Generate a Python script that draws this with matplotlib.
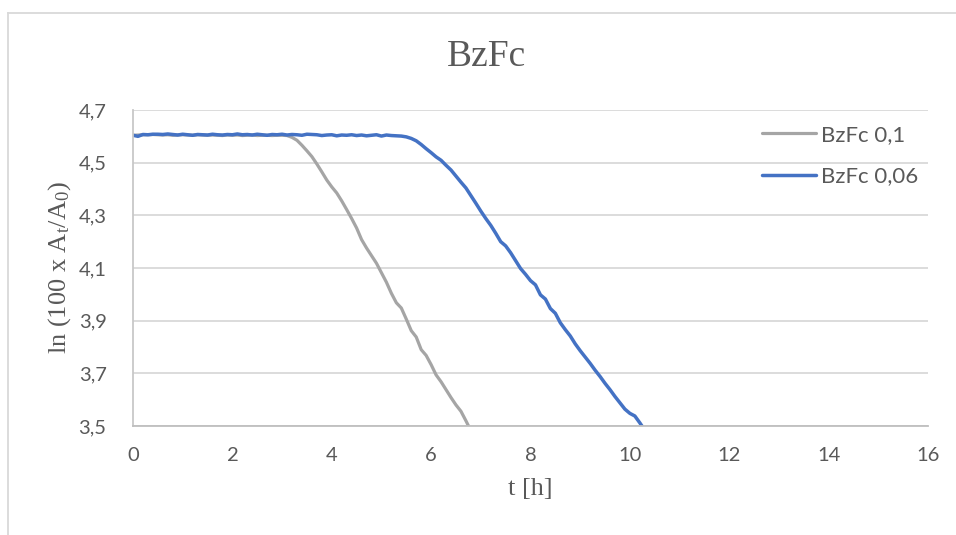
import numpy as np
import matplotlib.pyplot as plt
from matplotlib.lines import Line2D

# time axis, 0.1 h sampling
t_01 = np.round(np.arange(0, 6.85, 0.1), 1)
t_006 = np.round(np.arange(0, 10.35, 0.1), 1)

# ln(100 x At/A0), BzFc 0,1
ln_01 = [
    4.604, 4.605, 4.606, 4.606, 4.607, 4.606, 4.605, 4.606, 4.604, 4.605,
    4.606, 4.605, 4.604, 4.606, 4.605, 4.604, 4.605, 4.604, 4.603, 4.605,
    4.604, 4.605, 4.603, 4.604, 4.605, 4.603, 4.604, 4.604, 4.603, 4.604,
    4.604, 4.603, 4.596, 4.585, 4.566, 4.545, 4.523, 4.495, 4.465, 4.434,
    4.408, 4.385, 4.355, 4.322, 4.288, 4.252, 4.208, 4.176, 4.147, 4.118,
    4.082, 4.046, 4.004, 3.968, 3.948, 3.906, 3.862, 3.838, 3.790, 3.768,
    3.733, 3.694, 3.668, 3.638, 3.608, 3.580, 3.556, 3.520, 3.482,
]

# ln(100 x At/A0), BzFc 0,06
ln_006 = [
    4.604, 4.600, 4.607, 4.606, 4.608, 4.608, 4.607, 4.609, 4.607, 4.605,
    4.608, 4.606, 4.604, 4.607, 4.606, 4.605, 4.608, 4.606, 4.605, 4.607,
    4.606, 4.609, 4.606, 4.607, 4.605, 4.608, 4.606, 4.604, 4.607, 4.606,
    4.608, 4.605, 4.607, 4.606, 4.604, 4.608, 4.607, 4.606, 4.603, 4.605,
    4.606, 4.602, 4.605, 4.604, 4.606, 4.603, 4.605, 4.602, 4.604, 4.606,
    4.601, 4.605, 4.603, 4.602,
    4.601, 4.598, 4.592, 4.583, 4.569, 4.553, 4.538, 4.522, 4.509, 4.490,
    4.472, 4.449, 4.426, 4.404, 4.375, 4.346, 4.316, 4.288, 4.262, 4.232,
    4.200, 4.184, 4.158, 4.128, 4.098, 4.076, 4.052, 4.036, 3.998, 3.982,
    3.946, 3.928, 3.892, 3.866, 3.842, 3.812, 3.786, 3.762, 3.738, 3.712,
    3.688, 3.662, 3.638, 3.612, 3.588, 3.564, 3.548, 3.538, 3.512, 3.484,
]

labels = ["BzFc 0,1", "BzFc 0,06"]
colors = ["#A5A5A5", "#4472C4"]
yticks = [3.5, 3.7, 3.9, 4.1, 4.3, 4.5, 4.7]
xticks = [0, 2, 4, 6, 8, 10, 12, 14, 16]

tick_font = "Lato"
serif = "Liberation Serif"
txt = "#595959"

plt.rcParams["mathtext.fontset"] = "custom"
plt.rcParams["mathtext.rm"] = serif
plt.rcParams["mathtext.it"] = serif

fig = plt.figure(figsize=(9.56, 5.35), dpi=100)
ax = fig.add_axes([133 / 956, 1 - 426 / 535, 795 / 956, 316 / 535])

ax.plot(t_01, ln_01, color=colors[0], lw=2.3, label=labels[0], solid_capstyle="round")
ax.plot(t_006, ln_006, color=colors[1], lw=2.5, label=labels[1], solid_capstyle="round")

ax.set_xlim(0, 16)
ax.set_ylim(3.5, 4.7)
ax.set_xticks(xticks)
ax.set_yticks(yticks)
ax.set_xticklabels([str(v) for v in xticks])
ax.set_yticklabels([f"{v:.1f}".replace(".", ",") for v in yticks])
for lab in ax.get_xticklabels() + ax.get_yticklabels():
    lab.set_fontfamily(tick_font)
    lab.set_fontsize(14.5)
    lab.set_color(txt)
ax.tick_params(axis="both", length=0)
ax.tick_params(axis="x", pad=15)
ax.tick_params(axis="y", pad=19)

ax.grid(axis="y", color="#D9D9D9", lw=1.3)
ax.set_axisbelow(True)
for side in ["top", "right"]:
    ax.spines[side].set_visible(False)
ax.spines["left"].set_color("#C8C8C8")
ax.spines["bottom"].set_color("#BFBFBF")
ax.spines["left"].set_linewidth(1.3)
ax.spines["bottom"].set_linewidth(1.3)

ax.set_xlabel("t [h]", fontfamily=serif, fontsize=19, color=txt, labelpad=10)
ax.set_ylabel(r"ln (100 x A$_\mathrm{t}$/A$_\mathrm{0}$)", fontfamily=serif,
              fontsize=19, color=txt, labelpad=4)

fig.text(487 / 956, 1 - 57 / 535, "BzFc", fontfamily=serif, fontsize=27,
         color=txt, ha="center", va="center")

leg = ax.legend(loc="upper left", bbox_to_anchor=(0.766, 1.017), frameon=False,
                handlelength=2.45, handletextpad=0.2, labelspacing=0.98,
                prop={"family": tick_font, "size": 16})
for t in leg.get_texts():
    t.set_color(txt)

# chart frame
fig.add_artist(Line2D([8 / 956, 1], [1 - 13 / 535] * 2, color="#D9D9D9", lw=1.3,
                      transform=fig.transFigure))
fig.add_artist(Line2D([8 / 956] * 2, [0, 1 - 13 / 535], color="#D9D9D9", lw=1.3,
                      transform=fig.transFigure))

fig.savefig("out.png", dpi=100)
